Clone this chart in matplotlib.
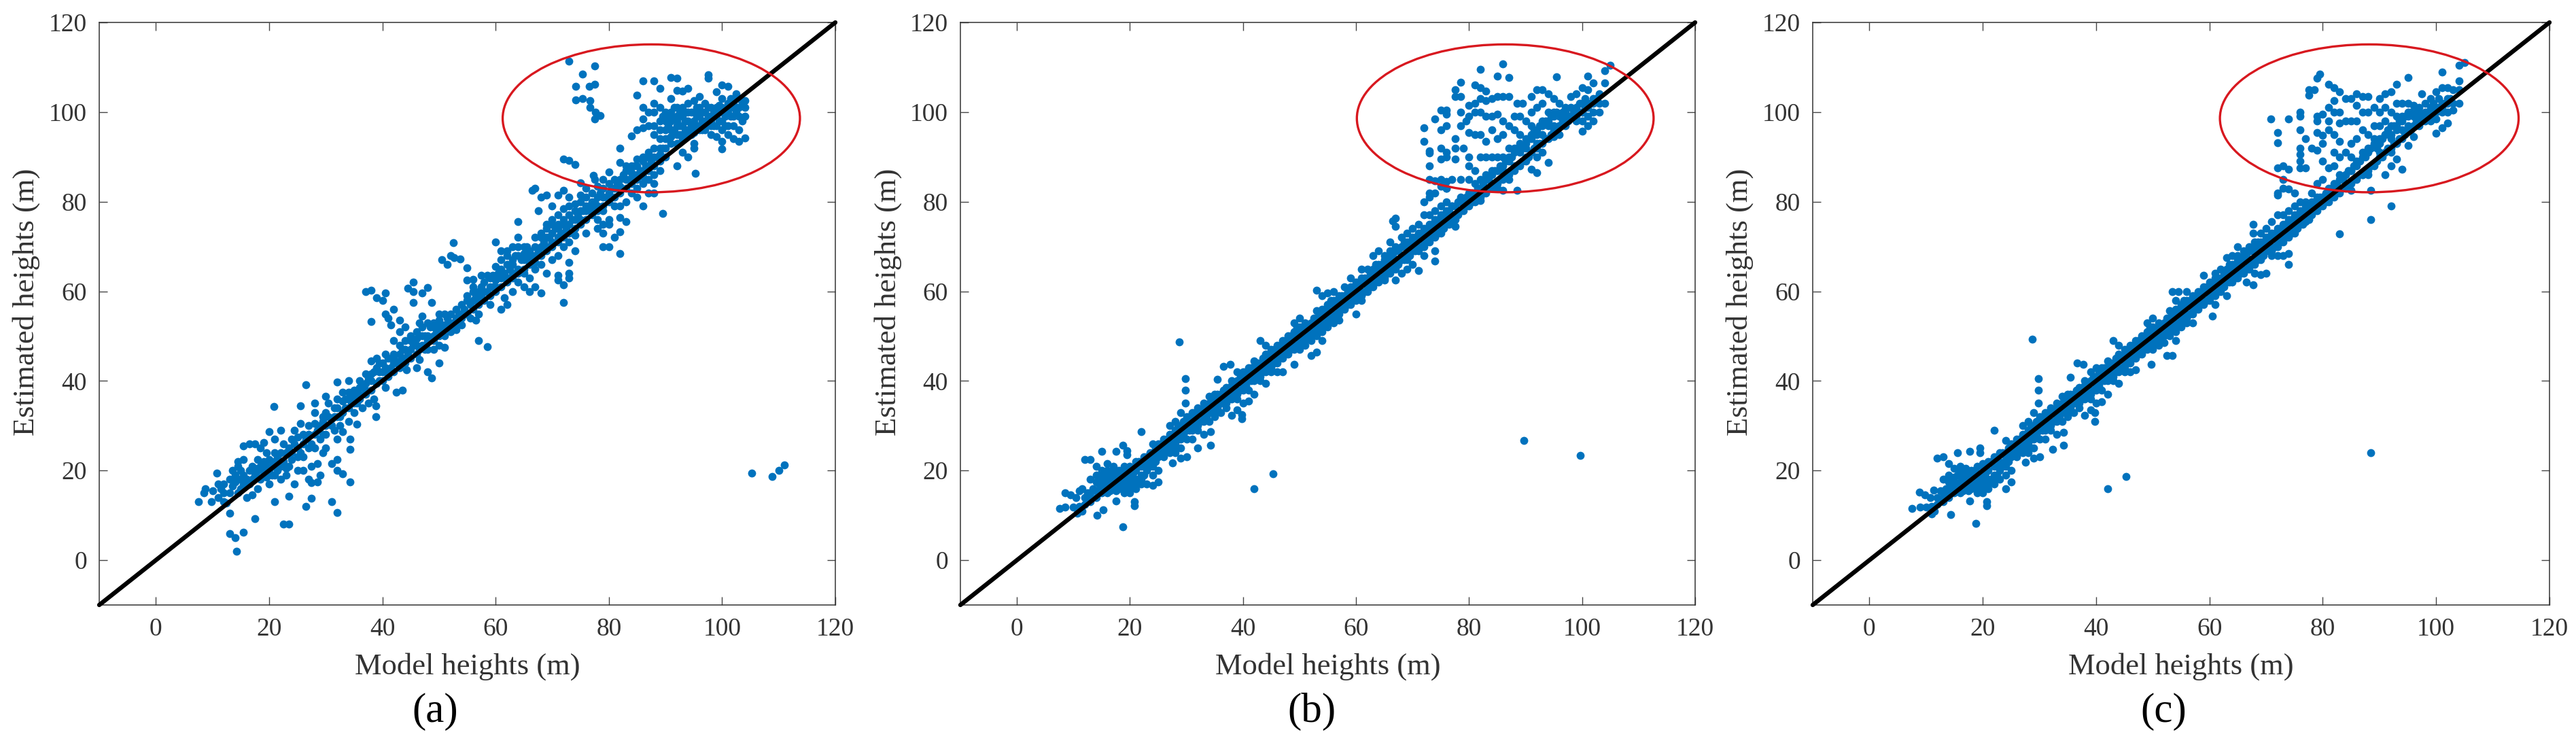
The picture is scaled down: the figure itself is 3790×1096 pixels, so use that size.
import matplotlib
matplotlib.use("Agg")
import matplotlib.pyplot as plt
from matplotlib.patches import Ellipse

# points as (model height, estimated height)
points_a = [
    (7.5,13),(8.5,15),(8.7,16),(9.8,13),(10,15.5),(10.8,19.5),(11,17),(11,14),(11.5,16),(12,15),(12,17),(12.5,12.8),
    (13,10.5),(13,6),(14,5),(14.2,2),(15.5,6.2),(17.5,9.3),(13,18),(13.5,20),(14,19),(14.5,21),(14.5,22),(15,18),
    (15,20),(15.5,25.5),(15.5,22.5),(15.5,17),(16,14),(16.5,26),(17,14.5),(17,21),(17.5,19),(17.5,26),(18,20),(18,16),
    (18,22.5),(18.5,25),(18.5,18),(19,26.3),(19,20),(19.5,24),(19.5,21),(20,28.7),(20,17),(20.5,19),(20.8,34.3),(21,13),
    (21,27),(21,22),(21.5,20),(22,24),(22,18),(22,29),(22.5,26),(22.5,8),(23.5,8),(23.5,14.3),(23,19),(23.5,21),
    (24,27),(24,24),(24.5,17),(24.5,29),(25,23),(25,20),(25.5,34.5),(25.5,30.5),(26,20),(26,26),(26.5,39.2),(26.5,12),
    (27,25),(27,18),(27.5,13.8),(27.5,17.3),(27.5,21),(28,33),(28,35),(28,25),(28.5,17.5),(28.5,21.5),(29,19),(29.5,32),
    (29.5,28),(29.5,24),(30,36.5),(30,25),(30,33),(30.5,35),(31,13),(31,21.5),(31,30),(31.5,29),(31.5,34),(32,39.7),
    (32,36),(32,27),(32,22.5),(32,20),(32,10.7),(32.5,32),(33,19.3),(33,37.5),(33,28.7),(33.5,34),(34,40),(34,36),
    (34,31),(34.3,27),(34.3,24.8),(34.3,17.5),(35,33),(35,38),(35.5,35),(35.5,30.3),(36,36),(36,40),(36.5,34),(37,41.5),
    (37,38),(37,60),(37.5,35),(38,60.2),(38,53.3),(38,44.5),(38,40),(38.5,36),(38.8,34.5),(38.8,32),(39,45),(39,58.5),
    (39.5,42),(39.5,40),(40,58),(40.5,59.7),(40.5,55),(40.5,46),(40.5,38.5),(41,42),(41,54),(41.5,52.5),(42,56),(42,49),
    (42,45),(42,44),(42.5,37.5),(43,53.5),(43,51),(43,46),(43,43),(43.5,38),(44,52),(44,47),(44,45),(44.3,42.5),
    (44.5,60.7),(45,49),(45,47),(45.5,62),(45.5,57.5),(45.5,60),(46,46),(46,51),(46,43),(46,48),(46.5,44.7),(46.5,53),
    (47,54.5),(47,59.7),(47,50),(47.5,47),(48,60.8),(48,53),(48,49),(48,42),(48.7,57.5),(48.7,40.7),(49,52),(49,50),
    (49,47),(50,55),(50,52),(50,48),(50,44),(50.5,67),(51,55),(51,50),(51,47.5),(51.5,66),(52,68),(52,53),(52,51),
    (52.5,70.8),(52.7,67.5),(53,56),(53,53),(53.7,67.2),(54,55),(54,52.5),(55,65.2),(55,62.5),(55,59),(55,55),(55.5,54),
    (56,62.7),(56,60),(56,58),(56.5,53.5),(57,58),(57,49),(57,55),(57.5,63.5),(57.5,61),(58,60),(58.5,63.5),(58.5,47.7),
    (59,61),(59,57),(59.5,63.5),(60,71),(60,65.5),(60,60),(60,61),(61,69),(61,65),(61,56),(61,63),(61.5,58.5),(62,68),
    (62,66),(62,63),(62,57),(63,70),(63,67),(63,64),(63,60),(64,75.5),(64,72),(64,68),(64,65),(64,62),(65,70),(65,67),
    (65,64),(65,61),(66,69),(66,66),(66,63),(66,60),(66.5,82.5),(67,83),(67,70),(67,68),(67,65),(67,61),(67.5,78),(68,81),
    (68,73),(68,70),(68,66),(68,59.7),(69,81.5),(69,75),(69,72),(69,69),(69,64),(70,79),(70,76),(70,73),(70,70),(70,67),
    (71,81.5),(71,75),(71,72),(71,68),(71,63.5),(71,62.5),(72,82.5),(72,78.5),(72,76),(72,73),(72,70),(72,61.5),(72,57.5),
    (73,81),(73,79),(73,75),(73,71),(73,66.5),(73,64),(73,63),(72,89.5),(73,89.2),(74,88.3),(74,79.5),(74,76),(74,72.5),
    (74,69),(75,84.2),(75,81.5),(75,78),(75,75),(76,83),(76,79),(76,76),(76,73),(77.3,85.8),(77.5,85),(77,80),(77,77),
    (78,83.5),(78,79),(78,76),(78,74),(79,85),(79,81),(79,78),(79,75),(79,73),(79,70),
    (73,111.3),(74.2,105.7),(74.2,102.7),(75.4,108.4),(75.4,103),(76.5,105.7),(76.7,102.5),(76.7,101),(77.5,110.3),
    (77.5,106.2),(77.6,100),(77.5,98.5),(78.5,99.2),(80,86.7),(80,84),(80,80),(80,76),(80,75),(80,70),(81,83),(81,79),
    (81,72),(82,92),(82,88.7),(82,85),(82,82),(82,79),(82,76.5),(82,73.3),(82,68.5),(83,88),(83,85),(83,80),(83,75.5),
    (84,88),(84,94.7),(84,85),(84,82),(85,96),(85,103.8),(85,89.5),(85,86),(85,83),(85,81),(86,107),(86,96.5),(86,98.5),
    (86,101),(86,90),(86,87),(86,84),(86,79),(87,100),(87,97),(87,91),(87,88),(87,85),(87,82),(88,107),(88,102),(88,100),
    (88,97),(88,95),(88,90),(88,86),(88,84),(88,82),(89,105.3),(89,101),(89,98),(89,96),(89,92),(89,89),(89,87),(89.5,77.3),
    (90,100),(90,98),(90,96),(90,94),(91,107.7),(91,103),(91,100),(91,98),(91,96),(91,93),(92,107.5),(92,104.8),(92,101),
    (92,99),(92,97),(92,95),(92,88),(93,104.7),(93,101),(93,99),(93,97),(93,95),(93,91),(94,105.3),(94,102),(94,100),
    (94,98),(94,96),(94,90),(95,102.5),(95,100),(95,98),(95,95.5),(95,93),(95,92),(95.3,86.3),(96,103.5),(96,101),(96,99),
    (96,97),(97,102),(97,100),(97,98),(97,96),(97.5,108.3),(97.5,107.5),(98,101),(98,99),(98,97),(98,95),(99,104.5),
    (99,101),(99,99),(99,97),(99,94.5),(100,106),(100,103),(100,100),(100,98),(100,96),(100,93.5),(100,91.8),(101,105.7),
    (101,102),(101,100),(101,97),(101,95),(102,103),(102,101),(102,99),(102,97),(102,94),(103,103),(103,101),(103,99),
    (103,96),(103,93.5),(104,102.5),(104,101),(104,99),(104,94.2),(105.2,19.5),(108.8,18.7),(110,20),(111,21.3),
]

# the thick part of the cloud in (a), close to the diagonal
band_a = [
    (12,13),(13,15),(13.5,16.5),(14,17.5),(14.5,15),(15,16),(15.5,19),(16,18),(16.5,17),(16.5,20),(17,18),(17.5,20.5),
    (18,18.5),(18.5,21),(19,19),(19,22),(19.5,18.5),(20,20),(20,22.5),(20.5,21),(21,19),(21,24),(21.5,23),(22,21),(22.5,22),
    (23,24),(23,20.5),(23.5,25),(24,22.5),(24.5,26),(25,25),(25,27.5),(25.5,24),(26,28),(26,23),(26.5,27),(27,28),(27,30),
    (27.5,26),(28,28),(28,30.5),(28.5,29),(29,30),(29,27),(29.5,31),(30,30),(30,28),(30.5,32),(31,31.5),(31.5,32),(32,32),
    (32,34),(32.5,30),(33,33),(33,35.5),(33.5,36),(34,34),(34,37.5),(34.5,35),(35,35),(35,36.5),(35.5,38),(36,37),(36,38.5),
    (36.5,39),(37,37),(37,39.5),(37.5,40.5),(38,38),(38,41.5),(38.5,42),(39,39.5),(39,43),(39.5,44),(40,40),(40,42),(40,44),
    (40.5,43),(41,41),(41,45),(41.5,43),(42,42),(42,46),(42.5,44),(43,44.5),(43,48),(43.5,47),(44,44),(44,49),(44.5,46),(45,45),
    (45,50),(45.5,48),(46,49.5),(46.5,47),(46.5,50),(47,48),(47,52),(47.5,50),(48,50),(48,47),(48.5,52),(49,49),(49,53),
    (49.5,51),(50,50),(50,53.5),(50.5,51.5),(51,52.5),(51.5,54),(52,52),(52,55),(52.5,53),(53,54),(53,51.5),(53.5,55),(54,54),
    (54,57),(54.5,56),(55,55),(55,58),(55.5,57),(56,56),(56,61),(56.5,59),(57,57),(57,60),(57.5,59),(58,58),(58,62),(58.5,60),
    (59,59),(59,63),(59.5,61),(60,62.5),(60.5,64),(61,61),(61,67),(61.5,64),(62,62),(62,69),(62.5,65),(63,63),(63,66),(63.5,68),
    (64,64),(64,70),(64.5,67),(65,65),(65,68.5),(65.5,70),(66,67.5),(66.5,68),(67,66.5),(67,72),(67.5,69),(68,68),(68,72),
    (68.5,71),(69,70),(69,74),(69.5,72),(70,71),(70,75),(70.5,74),(71,71),(71,74),(71,77),(71.5,73),(72,72),(72,75),(72.5,74),
    (73,73),(73,77),(73.5,76),(74,74),(74,78),(74.5,77),(75,76),(75,80),(75.5,78),(76,78),(76,81),(76.5,79),(77,78.5),(77,82),
    (77.5,80),(78,78),(78,81),(78.5,82),(79,79),(79,83),(79.5,81),(80,82),(80.5,83),(81,81),(81,85),(81.5,84),(82,83.5),(82.5,86),
    (83,83),(83,87),(83.5,85),(84,84),(84,86.5),(84.5,88),(85,85),(85,88),(85.5,87),(86,85.5),(86,89),(86.5,88),(87,87),(87,90),
    (87.5,89),(88,88),(88,92),(88.5,90),(89,90.5),(89,94),(89.5,92),(90,90),(90,92),(90.5,94),(90.5,97),(91,94.5),(91,99),
    (91.5,96),(92,93),(92,98),(92.5,100),(92.5,95),(93,94),(93.5,96),(93.5,98),(94,95),(94.5,97),(94.5,100),(95,96),(95.5,99),
    (95.5,97),(96,96),(96,100),(96.5,98),(97,97),(97.5,99),(98,98),(98.5,100),(99,100),(99.5,101.5),(100,101),(100.5,99),
    (101,101),(101.5,103),(102,102),(102.5,104),(89.5,99),(90.5,99.5),(91.5,101),(92.5,97),(93.5,100),(94.5,95),(95.5,101),
    (96.5,96),(97.5,101),(98.5,97),(99.5,98),(100.5,97),(101.5,99),(102.5,100),(103.5,102),(103.5,98),
]

points_b = [
    (7.5,11.5),(8.5,15),(8.5,11.8),(9.5,14.5),(10,11.8),(10.5,14),(10.7,10.5),(11,15.5),(11.5,16),(11.5,11),(12,22.5),
    (12,14),(12.5,15),(13,22.5),(13,18),(13,15),(13,13),(14,21),(14,17.5),(14,14),(14.2,10),(15,24.3),(15,20),(15,17.5),
    (15,15),(15.3,11.2),(16,21.5),(16,19),(16,16.5),(17,21),(17,19),(17,17),(17.5,24.3),(17.5,13.2),(18,20),(18,18),
    (18,16),(18.7,25.7),(18.7,7.5),(19,21),(19,18),(19,16),(19.5,24.5),(19.5,23.5),(20,20),(20,17),(20,15),(20.8,13),
    (20.8,12.2),(21,22),(21,18),(21,16),(22,28.7),(22,22),(22,19),(22,17),(23,23),(23,21),(23,17),(24,26),(24,24),(24,22),
    (24,19),(24,16.7),(25,26),(25,24),(25,20),(25,17.5),(26,27),(26,25),(26,23),(27,30),(27,28),(27,26),(27,24),(27.5,21.7),
    (28,31),(28,29),(28,26),(28,24),(28.7,48.7),(29,33),(29,28),(29,25),(29,22.7),(29.8,40.5),(29.8,38),(29.8,35),(30,31),
    (30,27),(30,23),(31,33),(31,30),(31,27),(32,33),(32,31),(32,29),(32,25),(33,34),(33,31),(33,28),(34,36.5),(34,34),
    (34,31),(34.3,28.7),(34.3,25.7),(35,37),(35,34),(35,32),(35.5,40.3),(36,35),(36,33),(36.5,43.3),(37,38),(37,36),(37,34),
    (37.7,43.7),(38,39),(38,36),(38,32.3),(39,42),(39,38),(39,36),(39,33.5),(39.8,32.5),(39.8,31.5),(40,42),(40,40),(40,38),
    (40,35),(41,43),(41,41),(41,38),(41,35.5),(42,44.5),(42,42),(42,40),(42,37),(42,16),(43,49),(43,44),(43,42),(43,40),
    (44,48),(44,45),(44,42),(44,39.5),(45,46),(45,44),(45,42),(45.3,19.3),(46,48),(46,46),(46,44),(46,42),(47,49),(47,47),
    (47,45),(47,42),(48,50),(48,48),(48,46),(49,53),(49,51),(49,48),(49,43.7),(50,54),(50,51),(50,49),(50,47),(51,52),
    (51,50),(51,48),(52,53),(52,51),(52,49),(52,45.7),(53,55.7),(53,52),(53,50),(53,46.5),(53,60.2),(54,59),(54,56),(54,53),
    (54,51),(54,49),(55,59.7),(55,57),(55,54),(55,52),(56,60),(56,58),(56,55),(56,53),(57,59),(57,57),(57,55),(57,53.5),
    (58,61),(58,58),(58,56),(59,63),(59,60),(59,58),(60,62),(60,60),(60,58),(60,55),(61,65),(61,62),(61,60),(61,58),(62,65),
    (62,62),(62,60),(63,68),(63,65),(63,63),(63,61),(64,69),(64,66),(64,63),(65,68),(65,66),(65,64),(65,62.5),(66,71),(66,69),
    (66,67),(66,64),(66.5,75.7),(67,76.3),(67,74.5),(67,70),(67,67),(67,65),(67,62.5),(68,72),(68,70),(68,67),(68,64),(69,73),
    (69,71),(69,68),(69,65),(70,74),(70,72),(70,69),(70,66),(71,75),(71,73),(71,70),(71,64.7),(72,80),(72,77),(72,74),(72,71),
    (72,68),(73,81),(73,77),(73,74),(73,71),(74,82),(74,78),(74,76),(74,72),(74,69),(74,66.7),(75,85),(75,79),(75,76),(75,73),
    (76,84.5),(76,83),(76,80),(76,77),(77,85),(77,79),(77,76),(77.5,74.5),
    (72,96.5),(72,93.5),(73,91.3),(73,90.8),(73,88),(73,85),(73,82),(74,98.5),(74,84.7),(75,96),(75,100.5),(75,92),(75,89.5),
    (75,83.5),(76,100.5),(76,99.5),(76,97),(76,91),(76,90),(76,83),(77.5,105),(77.5,103.5),(77.5,94),(77.5,92),(77.5,89.5),
    (78.5,106.7),(78.5,103.5),(78.5,100),(78.5,97),(78.5,85),(78.5,81),(79,92),(79.5,98),(80,101.5),(80,99),(80,95.5),(80,90),
    (80,88),(80,85),(80,82),(81,102),(81,106),(81,100),(81,95),(81,87),(81,84),(82,109.5),(82,105.5),(82,103),(82,100),(82,95),
    (82,90),(82,85),(82,80.2),(83,104.7),(83,102.5),(83,99),(83,93.5),(83,90),(83,86),(83,83),(84,103),(84,99),(84,96),(84,90),
    (84,87),(84,84),(85,108),(85,103.5),(85,99.5),(85,94),(85,90),(85,87),(85,83),(86,110.8),(86,103.5),(86,98),(86,95),(86,90),
    (86,87),(86,82.5),(87,107.7),(87,103.5),(87,97),(87,92),(87,89),(87,85),(88,99),(88,96),(88,92),(88,88),(88.5,102),(88.5,82.5),
    (89,99),(89,95),(89,91),(89.5,102),(90,98),(90,94),(90,92),(90,89),(91,103.5),(91,100),(91,97),(91,94),(91,87.2),(92,105),
    (92,101),(92,96),(92,93),(92,90),(92,86.5),(93,105),(93,102),(93,98),(93,95),(93,91),(94,104),(94,100),(94,97),(94,88.7),
    (95,103),(95,99),(95,96),(95,94.5),(95.5,107.8),(96,102),(96,99),(96,97),(96,95),(97,101),(97,99),(97,97),(98,103.5),(98,101),
    (98,99),(99,104),(99,100),(99,98),(100,105.5),(100,102),(100,100),(100,98),(100,95.7),(101,108),(101,105),(101,102),(101,99),
    (101,97),(102,106.5),(102,103),(102,100),(102,98),(103,104),(103,102),(103,100),(104,109.3),(104,106.5),(104,102),(105,110.5),
    (89.7,26.7),(99.7,23.3),
]

points_c = [
    (7.5,11.5),(8.8,15.2),(9,11.8),(9.8,14.5),(10,11.9),(10.7,14),(11,10.3),(11.3,15.7),(11.5,11),(12,22.7),(12,14),(12.5,15.5),
    (13,23),(13,18),(13,15),(13,13),(14,21.5),(14,17.5),(14,14),(14.3,10.2),(15,20.5),(15,17.5),(15,15),(15.5,24),(16,21),(16,19),
    (16,16.5),(17,20.5),(17,18.5),(17,16.5),(17.7,24.3),(17.7,13.2),(18,20),(18,18),(18,16),(18.8,8.2),(19,21),(19,18),(19,16),
    (19.5,25),(19.5,24),(20,21.5),(20,17),(20,15),(20.7,13),(20.7,12.2),(21,22),(21,18),(21,16),(22,29),(22,23),(22,19),(22,17),
    (23,24),(23,21),(23,18),(24,26.7),(24,24),(24,22),(24,19),(24,16),(25,26),(25,24),(25,20),(25,17.5),(26,27),(26,25),(26,23),
    (27,30),(27,28),(27,26),(27,24),(27.5,21.8),(28,31),(28,29),(28,26),(28,24),(28.7,49.3),(29,33),(29,28),(29,25),(29,22.7),
    (29.8,40.5),(29.8,38),(29.8,35),(30,31),(30,27),(30,23),(31,33),(31,30),(31,27),(32,33),(32,31),(32,29),(32.3,24.8),(33,34),
    (33,31),(33,28),(34,36.5),(34,34),(34,31),(34.3,28.5),(34.3,25.7),(35,37),(35,34),(35,32),(35.5,40.8),(36,35),(36,33),(36.7,44),
    (37,38),(37,36),(37,34),(37.7,43.7),(38,39),(38,36),(38,32.3),(39,42),(39,38),(39,36),(39,33.5),(39.8,33),(39.8,31),(40,43),
    (40,40),(40,38),(40,35),(41,43),(41,41),(41,38),(41,35.3),(42,44.5),(42,42),(42,40),(42,37),(42,16),(43,49),(43,44),(43,42),
    (43,40),(44,48),(44,45),(44,42),(44,39.5),(45,46),(45,44),(45,42),(45.3,18.6),(46,48),(46,46),(46,44),(46,42),(47,49),(47,47),
    (47,45),(47,42.5),(48,50),(48,48),(48,46),(49,53),(49,51),(49,48),(49.7,43.7),(50,54),(50,51),(50,49),(50,47),(51,52),(51,50),
    (51,48),(52,53),(52,51),(52,48.5),(52.5,45.7),(53,55.7),(53,52),(53,50),(53.5,45.7),(53.5,60),(54,58),(54,56),(54,53),(54,51),
    (54,49),(54.5,60),(55,57),(55,54),(55,52),(56,60),(56,58),(56,55),(56,53),(57,59),(57,57),(57,55),(57,53),(58,60),(58,58),(58,56),
    (59,63.5),(59,60),(59,58),(60,62),(60,60),(60,58),(60.5,54.5),(61,64),(61,62),(61,60),(61,57),(62,65),(62,62),(62,60),(63,67.5),
    (63,65),(63,63),(63,59),(64,68),(64,66),(64,63),(65,70),(65,68),(65,66),(65,64),(66,69),(66,67),(66,64),(66.5,62),(67,70),(67,67),
    (67,65),(67.7,75),(67.7,73),(67.7,61.5),(68,71),(68,69),(68,66),(68,64),(69,73),(69,71),(69,68),(69,63.7),(70,74),(70,72),(70,69),
    (70,64),(71,75.5),(71,73),(71,70),(71,68),(72,82),(72,81.5),(72,77),(72,74),(72,71),(72,68),(73,83),(73,77),(73,74),(73,71),(73,68),
    (74,82.8),(74,78),(74,76),(74,72),(74,68.5),(74,66),(75,82),(75,79),(75,76),(75,73),(76,80),(76,77),(77,80),(77,78),(77,75.5),
    (78,82),(78,79.5),(79,84),(79,81),(79,78.5),
    (70.8,98.5),(72,95.5),(72,93.2),(72,87.5),(73,88),(73,85),(74,98.5),(74,87.3),(76,100),(76,99),(76,96),(76,92),(76,90.5),(76,89),
    (76,87.5),(77,94),(77,87.5),(77.5,105),(77.5,103.8),(78,92),(78.5,105),(79,107.5),(79,99),(79,98),(79,95.5),(79,91.5),(79.5,108.5),
    (80,99.5),(80,94.8),(80,93),(80,89),(80,85),(80,81),(81,106.2),(81,101),(81,98),(81,96),(81,87.5),(81,83),(82,105.5),(82,102.5),
    (82,100),(82,95),(82,91),(82,88),(82,84),(83,104.5),(83,100),(83,97.5),(83,93.5),(83,90),(83,86),(83,72.8),(84,103),(84,98),(84,91),
    (84,86),(85,103),(85,98),(85,93),(85,90),(85,87),(85,82.5),(86,104),(86,101.5),(86,98),(86,94),(86,89),(87,103.5),(87,100),(87,96),
    (87,91),(87,86),(88,103.5),(88,100),(88,95),(88,92),(88,86),(88.5,82.5),(88.5,76),(88.5,24),(89,101),(89,97),(89,94),(90,103),(90,100),
    (90,97),(90,94),(90,91),(91,104),(91,101),(91,98),(91,95),(91,86),(92,104.5),(92,100),(92,97),(92,94),(92,91),(92,88),(92,79),(93,106.2),
    (93,102),(93,99),(93,96),(93,93),(93,89.5),(94,102),(94,99),(94,96),(94,87.3),(95,107.7),(95,102),(95,99),(95,96),(95,92.5),(96,101.5),
    (96,99),(96,97),(96,94.5),(97,101),(97,99),(97,97),(97.5,104),(98,102),(98,100),(98,98),(99,103),(99,100),(99,98),(100,104.5),(100,101),
    (100,98.5),(100,95.3),(101,109),(101,105.5),(101,102),(101,100),(101,96.5),(102,105.5),(102,103),(102,100),(102,97.5),(103,105),(103,102),
    (103,100.5),(104,110.5),(104,107),(104,105),(104,102),(105,111),
]

# thick part of the cloud close to the diagonal, (b) and (c) look the same there
band_bc = [
    (11,12),(12,12.5),(12.5,13.5),(13,14),(13.5,16),(14,15.5),(14,19),(14.5,17),(15,16),(15,18.5),(15.5,19),(15.5,16),(16,15),(16,17.5),
    (16,20),(16.5,18),(16.5,15.5),(17,16),(17,20),(17.5,18),(17.5,15.5),(18,17),(18,19.5),(18.5,17),(18.5,20),(19,15),(19,17),(19,19.5),
    (19.5,18),(19.5,15.5),(20,16),(20,18.5),(20,21),(20.5,17),(20.5,19.5),(21,17),(21,20),(21.5,18),(21.5,22),(22,18),(22,21),(22.5,19),
    (22.5,23),(23,20),(23,22),(23.5,21),(23.5,24),(24,21),(24,23),(24.5,22),(24.5,25),(25,23),(25,25),(25.5,24),(25.5,26),(26,24),(26,26),
    (26.5,25),(26.5,27),(27,25),(27,27),(27.5,26),(27.5,28),(28,27),(28,25),(28.5,27),(28.5,30),(29,27),(29,30),(29.5,28),(29.5,31),(30,29),
    (30,32),(30.5,29),(30.5,32),(31,29),(31,32),(31.5,30),(31.5,33),(32,30),(32,34),(32.5,31),(32.5,33.5),(33,32),(33,35),(33.5,32),(33.5,34),
    (34,33),(34,35),(34.5,34),(34.5,36),(35,33),(35,36),(35.5,34),(35.5,37),(36,35),(36,37),(36.5,35),(36.5,38),(37,35),(37,38.5),(37.5,36),
    (37.5,38),(38,37),(38,40),(38.5,37),(38.5,39.5),(39,37),(39,40),(39.5,38),(39.5,41),(40,39),(40,41),(40.5,39),(40.5,42),(41,40),(41,42),
    (41.5,40),(41.5,43),(42,41),(42,43),(42.5,41),(42.5,44),(43,41),(43,43),(43.5,42),(43.5,45),(44,43),(44,46),(44.5,43),(44.5,45),(45,43),
    (45,47),(45.5,44),(45.5,47),(46,45),(46,47),(46.5,45),(46.5,48),(47,46),(47,48),(47.5,46),(47.5,49),(48,47),(48,49),(48.5,47),(48.5,50),
    (49,47),(49,50),(49.5,48),(49.5,52),(50,48),(50,52),(50.5,49),(50.5,51),(51,49),(51,53),(51.5,50),(51.5,52),(52,50),(52,52),(52.5,51),
    (52.5,54),(53,51),(53,54),(53.5,52),(53.5,55),(54,52),(54,55),(54.5,53),(54.5,56),(55,53),(55,56),(55.5,54),(55.5,58),(56,54),(56,57),
    (56.5,55),(56.5,58),(57,56),(57,58),(57.5,56),(57.5,59),(58,57),(58,59),(58.5,57),(58.5,60),(59,57),(59,61),(59.5,58),(59.5,61),(60,59),
    (60,61),(60.5,59),(60.5,62),(61,59),(61,63),(61.5,60),(61.5,63),(62,61),(62,63),(62.5,61),(62.5,64),(63,62),(63,64),(63.5,62),(63.5,66),
    (64,62),(64,65),(64.5,63),(64.5,66),(65,63),(65,67),(65.5,64),(65.5,67),(66,65),(66,68),(66.5,65),(66.5,68),(67,66),(67,69),(67.5,66),
    (67.5,69),(68,67),(68,70),(68.5,67),(68.5,71),(69,67),(69,70),(69.5,68),(69.5,71),(70,69),(70,71),(70.5,69),(70.5,72),(71,69),(71,72),
    (71.5,70),(71.5,73),(72,70),(72,73),(72.5,71),(72.5,74),(73,72),(73,75),(73.5,72),(73.5,75),(74,73),(74,75),(74.5,73),(74.5,76),(75,74),
    (75,77),(75.5,74),(75.5,77),(76,75),(76,78),(76.5,75),(76.5,78),(77,77),(77,79),(77.5,76),(77.5,79),(78,77),(78,80),(78.5,78),(78.5,80),
    (79,78),(79,80),(79.5,79),(79.5,81),(80,79),(80,81),(80.5,80),(80.5,82),(81,80),(81,82),(81.5,81),(81.5,83),(82,81),(82,83),(82.5,82),
    (82.5,84),(83,82),(83,85),(83.5,83),(83.5,85),(84,83),(84,86),(84.5,84),(84.5,87),(85,84),(85,87),(85.5,85),(85.5,88),(86,85),(86,88),
    (86.5,86),(86.5,89),(87,86),(87,90),(87.5,87),(87.5,90),(88,87),(88,91),(88.5,88),(88.5,92),(89,88),(89,93),(89.5,89),(89.5,92),(90,90),
    (90,93),(90.5,90),(90.5,94),(91,91),(91,95),(91.5,92),(91.5,96),(92,92),(92,95),(92.5,93),(92.5,97),(93,93),(93,97),(93.5,94),(93.5,98),
    (94,94),(94,98),(94.5,95),(94.5,99),(95,97),(95,100),(95.5,96),(95.5,100),(96,97),(96.5,98),(96.5,100),(97,98),(97,100),(97.5,98),(98,99),
    (98.5,100),(99,99),(99,101),(99.5,100),(99.5,102),(100,100),(100.5,101),(100.5,103),(101,101),(101.5,102),(102,102),(102.5,103),
]

axis_limits = (-10, 120)
tick_values = [0, 20, 40, 60, 80, 100, 120]
identity_line = [-10, 120]
x_title = "Model heights (m)"
y_title = "Estimated heights (m)"
panel_names = ["(a)", "(b)", "(c)"]
circle_centres = [(87.5, 98.6), (86.4, 98.6), (88.2, 98.6)]
circle_widths = [52.5, 52.5, 52.7]
circle_height = 33

W, H = 3791, 1096
BLUE = "#0072BD"
DARK = "#333333"

plt.rcParams["font.family"] = ["Liberation Serif", "DejaVu Serif"]

fig = plt.figure(figsize=(W / 100, H / 100), dpi=100, facecolor="white")


def draw_panel(left, right, points, name, name_x, centre, width):
    top, bottom = 33, 890
    ax = fig.add_axes([left / W, 1 - bottom / H, (right - left) / W, (bottom - top) / H])
    xs, ys = zip(*points)
    ax.scatter(xs, ys, s=72, color=BLUE, linewidths=0, zorder=2)
    ax.plot(identity_line, identity_line, color="black", lw=4.6, zorder=3, clip_on=False,
            solid_capstyle="round")
    ax.add_patch(Ellipse(centre, width, circle_height, fill=False, edgecolor="#D8181F", lw=2.4, zorder=4))
    ax.set_xlim(axis_limits)
    ax.set_ylim(axis_limits)
    ax.set_xticks(tick_values)
    ax.set_yticks(tick_values)
    ax.tick_params(direction="in", length=8.5, width=1, color="#444444", labelsize=27,
                   labelcolor=DARK, top=True, right=True, pad=13)
    for spine in ax.spines.values():
        spine.set_linewidth(1.1)
        spine.set_color("#333333")
    ax.set_xlabel(x_title, fontsize=32, color=DARK, va="center")
    ax.set_ylabel(y_title, fontsize=32, color=DARK, va="center")
    ax.xaxis.set_label_coords(0.5, (890 - 981) / 857)
    ax.yaxis.set_label_coords((39 - 146) / 1083, 0.52)
    fig.text(name_x / W, 1 - 1047 / H, name, fontsize=44, color="black", ha="center", va="center")


draw_panel(146, 1229, points_a + band_a, panel_names[0], 640, circle_centres[0], circle_widths[0])
draw_panel(1413, 2494, points_b + band_bc, panel_names[1], 1930, circle_centres[1], circle_widths[1])
draw_panel(2667, 3751, points_c + band_bc, panel_names[2], 3183, circle_centres[2], circle_widths[2])

fig.savefig("out.png", dpi=100)
